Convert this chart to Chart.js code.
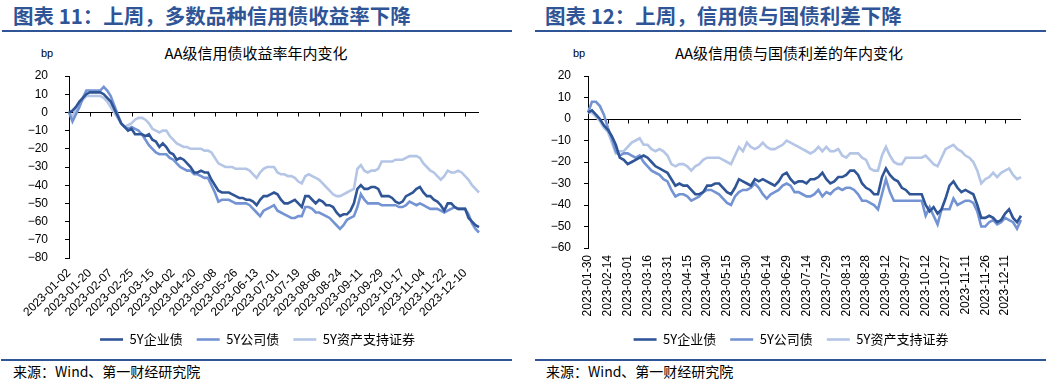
<!DOCTYPE html>
<html><head><meta charset="utf-8">
<script src="https://cdn.jsdelivr.net/npm/chart.js@4.4.0/dist/chart.umd.min.js"></script>
<style>
body{margin:0;width:1046px;height:383px;background:#fff;position:relative;overflow:hidden;font-family:"Noto Sans CJK SC","Noto Sans",sans-serif}
.h{position:absolute;top:0;font-size:20.5px;font-weight:bold;color:#2F5597;line-height:30px;white-space:nowrap}
.hl{position:absolute;top:30px;height:2px;background:#2F5597}
.sl{position:absolute;top:359px;height:2px;background:#2F5597}
.src{position:absolute;top:361px;font-size:14px;line-height:21px;color:#000;white-space:nowrap}
.ct{position:absolute;top:43px;font-size:15px;line-height:20px;color:#000;text-align:center;white-space:nowrap}
.bp{position:absolute;top:46px;font-size:11px;line-height:14px;color:#000;font-family:"Liberation Sans",sans-serif}
canvas{position:absolute;top:0}
</style></head>
<body>
<div class="h" style="left:13px">图表 11：上周，多数品种信用债收益率下降</div>
<div class="hl" style="left:2px;width:510px"></div>
<div class="h" style="left:545px">图表 12：上周，信用债与国债利差下降</div>
<div class="hl" style="left:535px;width:511px"></div>
<div class="ct" style="left:0;width:512px">AA级信用债收益率年内变化</div>
<div class="ct" style="left:534px;width:510px">AA级信用债与国债利差的年内变化</div>
<div class="bp" style="left:41px">bp</div>
<div class="bp" style="left:573px">bp</div>
<canvas id="c1" width="520" height="356" style="left:0"></canvas>
<canvas id="c2" width="520" height="356" style="left:526px"></canvas>
<div class="sl" style="left:1px;width:511px"></div>
<div class="sl" style="left:535px;width:511px"></div>
<div class="src" style="left:13px">来源：Wind、第一财经研究院</div>
<div class="src" style="left:546px">来源：Wind、第一财经研究院</div>
<script>
// ---- series names ----
const seriesNames = ['5Y企业债', '5Y公司债', '5Y资产支持证券'];
const seriesColors = ['#2F5597', '#7393D3', '#B4C5E6'];

// ---- left chart: AA yield change (bp), sampled every 3 days from 2023-01-02 ----
const leftStart = '2023-01-02';
const leftTickLabels = ['2023-01-02','2023-01-20','2023-02-07','2023-02-25','2023-03-15','2023-04-02','2023-04-20','2023-05-08','2023-05-26','2023-06-13','2023-07-01','2023-07-19','2023-08-06','2023-08-24','2023-09-11','2023-09-29','2023-10-17','2023-11-04','2023-11-22','2023-12-10'];
const leftYTicks = [20,10,0,-10,-20,-30,-40,-50,-60,-70,-80];
const leftEnterprise = [
0,1,3,6,8,10,
11,11,11,11,10,8,
6,2,-2,-6,-8,-10,
-9,-12,-12,-12,-13,-12,
-15,-16,-19,-17,-19,-22,
-23,-26,-25,-26,-28,-30,
-33,-33,-32,-33,-33,-37,
-40,-43,-44,-44,-44,-45,
-46,-47,-47,-48,-48,-49,
-51,-48,-46,-46,-45,-44,
-45,-48,-50,-50,-49,-48,
-50,-52,-46,-46,-48,-50,
-48,-49,-51,-51,-52,-55,
-57,-56,-56,-54,-50,-42,
-40,-42,-42,-41,-41,-42,
-46,-46,-46,-47,-49,-50,
-49,-46,-45,-44,-42,-41,
-44,-46,-46,-48,-49,-51,
-54,-50,-50,-52,-53,-53,
-53,-58,-60,-62,-63];
const leftCompany = [
0,-5,-1,3,8,12,
12,12,12,12,14,12,
9,4,-1,-6,-8,-9,
-8,-9,-10,-12,-15,-18,
-20,-22,-23,-23,-23,-25,
-26,-28,-30,-31,-32,-32,
-34,-34,-35,-36,-36,-40,
-44,-49,-48,-48,-48,-49,
-50,-50,-50,-50,-51,-53,
-55,-57,-54,-53,-52,-51,
-54,-55,-56,-57,-58,-58,
-57,-57,-52,-52,-53,-55,
-55,-56,-57,-58,-60,-62,
-64,-62,-59,-58,-57,-52,
-45,-48,-50,-50,-50,-50,
-51,-51,-51,-51,-51,-52,
-52,-51,-49,-50,-51,-50,
-51,-52,-53,-53,-53,-54,
-55,-54,-53,-52,-53,-53,
-53,-56,-61,-64,-66];
const leftABS = [
0,-2,1,4,7,9,
9,9,9,9,8,6,
3,0,-3,-6,-8,-7,
-6,-4,-3,-3,-4,-6,
-9,-10,-11,-10,-10,-13,
-15,-17,-18,-19,-19,-20,
-20,-20,-20,-21,-21,-22,
-25,-28,-29,-30,-30,-30,
-31,-31,-31,-31,-32,-34,
-36,-33,-31,-30,-30,-30,
-33,-34,-34,-35,-35,-36,
-38,-39,-35,-34,-35,-36,
-37,-39,-41,-43,-45,-46,
-46,-45,-44,-43,-42,-31,
-29,-32,-33,-32,-32,-31,
-27,-27,-27,-27,-26,-26,
-26,-25,-24,-24,-24,-25,
-28,-30,-32,-33,-35,-37,
-35,-32,-33,-33,-32,-33,
-35,-37,-40,-42,-44];

// ---- right chart: AA spread over treasury change (bp), sampled every 3 days from 2023-01-30 ----
const rightStart = '2023-01-30';
const rightTickLabels = ['2023-01-30','2023-02-14','2023-03-01','2023-03-16','2023-03-31','2023-04-15','2023-04-30','2023-05-15','2023-05-30','2023-06-14','2023-06-29','2023-07-14','2023-07-29','2023-08-13','2023-08-28','2023-09-12','2023-09-27','2023-10-12','2023-10-27','2023-11-11','2023-11-26','2023-12-11'];
const rightYTicks = [20,10,0,-10,-20,-30,-40,-50,-60];
const rightEnterprise = [
3,4,2,0,-3,
-5,-8,-12,-18,-19,
-21,-20,-19,-18,-17,
-18,-20,-22,-23,-24,
-25,-28,-31,-30,-31,
-31,-33,-35,-35,-34,
-31,-31,-30,-30,-32,
-34,-35,-32,-28,-29,
-30,-31,-28,-29,-28,
-29,-30,-31,-29,-26,
-25,-28,-30,-29,-29,
-30,-28,-28,-27,-25,
-28,-30,-29,-27,-27,
-26,-24,-24,-26,-30,
-32,-33,-35,-35,-27,
-23,-26,-28,-29,-32,
-33,-35,-35,-35,-35,
-40,-43,-41,-44,-42,
-37,-31,-29,-32,-34,
-33,-34,-35,-40,-46,
-46,-45,-46,-48,-47,
-44,-42,-46,-48,-45];
const rightCompany = [
3,8,8,6,2,
-4,-9,-15,-17,-16,
-16,-17,-18,-17,-20,
-22,-24,-25,-26,-28,
-29,-33,-36,-35,-35,
-36,-38,-37,-36,-34,
-33,-33,-34,-35,-37,
-39,-40,-36,-34,-33,
-33,-32,-30,-32,-35,
-37,-35,-34,-33,-31,
-30,-31,-34,-34,-35,
-36,-36,-35,-33,-36,
-34,-35,-33,-32,-33,
-32,-32,-33,-35,-38,
-38,-39,-40,-42,-35,
-28,-34,-38,-38,-38,
-38,-38,-38,-38,-38,
-45,-41,-45,-49,-42,
-42,-42,-37,-40,-39,
-38,-38,-39,-43,-50,
-50,-48,-47,-49,-48,
-46,-47,-48,-51,-47];
const rightABS = [
3,3,1,-1,-4,
-6,-11,-16,-15,-15,
-13,-11,-10,-9,-12,
-12,-14,-15,-14,-15,
-17,-21,-22,-21,-21,
-22,-24,-22,-21,-19,
-18,-18,-18,-18,-19,
-20,-21,-17,-13,-15,
-11,-13,-14,-13,-11,
-13,-14,-14,-13,-12,
-10,-11,-12,-13,-14,
-15,-16,-15,-13,-15,
-13,-15,-15,-14,-17,
-18,-16,-16,-16,-18,
-19,-23,-24,-24,-17,
-13,-17,-20,-21,-21,
-18,-18,-18,-18,-18,
-17,-19,-21,-22,-18,
-14,-13,-12,-14,-15,
-17,-18,-20,-24,-30,
-28,-27,-25,-27,-25,
-24,-23,-26,-28,-27];

function makeDates(start, n, step){
  const out = [];
  const d0 = new Date(start + 'T00:00:00Z');
  for (let i = 0; i < n; i++){
    const d = new Date(d0.getTime() + i*step*86400000);
    out.push(d.toISOString().slice(0,10));
  }
  return out;
}
const leftCategories = makeDates(leftStart, leftEnterprise.length, 3);
const rightCategories = makeDates(rightStart, rightEnterprise.length, 3);

const zeroAxis = {
  id: 'zeroAxis',
  beforeDatasetsDraw(chart, args, opts){
    const {ctx, chartArea: a, scales: {x, y}} = chart;
    const y0 = Math.round(y.getPixelForValue(0)) + 0.5;
    ctx.save();
    ctx.strokeStyle = '#000'; ctx.lineWidth = 1;
    ctx.beginPath();
    ctx.moveTo(a.left, y0); ctx.lineTo(a.right, y0);
    for (let i = opts.step; i < chart.data.labels.length; i += opts.step){
      const px = Math.round(x.getPixelForValue(i)) + 0.5;
      ctx.moveTo(px, y0); ctx.lineTo(px, y0 + 4);
    }
    ctx.stroke();
    ctx.restore();
  }
};

const minus = v => v < 0 ? '\u2212' + Math.abs(v) : String(v);

function makeChart(id, c){
  const data = [c.enterprise, c.company, c.abs];
  new Chart(document.getElementById(id), {
    type: 'line',
    data: {
      labels: c.labels,
      datasets: data.map((d, k) => ({
        label: seriesNames[k], data: d, borderColor: seriesColors[k], backgroundColor: seriesColors[k],
        borderWidth: 2.6, pointRadius: 0, tension: 0, fill: false
      }))
    },
    options: {
      responsive: false, animation: false, devicePixelRatio: 1,
      layout: {padding: {left: c.padLeft, right: c.padRight, top: c.padTop, bottom: 0}},
      plugins: {
        legend: {position: 'bottom', labels: {usePointStyle: true, pointStyle: 'line', pointStyleWidth: 23, boxHeight: 13,
          padding: 14, color: '#000', font: {family: '"Noto Sans CJK SC"', size: 13}}},
        tooltip: {enabled: false},
        zeroAxis: {step: c.step}
      },
      scales: {
        x: {
          grid: {display: false, drawTicks: false}, border: {display: false},
          ticks: {autoSkip: false, minRotation: c.rot, maxRotation: c.rot, padding: c.xPad, color: '#000',
            font: {family: '"Liberation Sans"', size: 12},
            callback: (v, i) => (i % c.step === 0 && c.tickLabels[i / c.step]) ? c.tickLabels[i / c.step] : ''},
          afterFit(s){ s.height = c.xHeight; }
        },
        y: {
          min: c.yTicks[c.yTicks.length - 1], max: c.yTicks[0],
          grid: {drawOnChartArea: false, tickLength: 4, color: '#000'},
          border: {display: true, color: '#000', width: 1},
          ticks: {stepSize: 10, padding: c.yPad, color: '#000', font: {family: '"Liberation Sans"', size: 12},
            callback: v => c.yTicks.includes(v) ? minus(v) : ''},
          afterFit(s){ s.width = c.yWidth; }
        },
        yr: {
          position: 'right', display: true, min: c.yTicks[c.yTicks.length - 1], max: c.yTicks[0],
          grid: {display: false, drawTicks: false}, border: {display: false}, ticks: {display: false},
          afterFit(s){ s.width = c.rightGap; }
        }
      }
    },
    plugins: [zeroAxis]
  });
}

makeChart('c1', {labels: leftCategories, enterprise: leftEnterprise, company: leftCompany, abs: leftABS,
  tickLabels: leftTickLabels, yTicks: leftYTicks, step: 6, rot: 45, xPad: 8, xHeight: 61,
  padLeft: 0, yWidth: 69, yPad: 17, padRight: 5, rightGap: 36, padTop: 76});
makeChart('c2', {labels: rightCategories, enterprise: rightEnterprise, company: rightCompany, abs: rightABS,
  tickLabels: rightTickLabels, yTicks: rightYTicks, step: 5, rot: 90, xPad: 7, xHeight: 71,
  padLeft: 10, yWidth: 52, yPad: 13, padRight: 0, rightGap: 25, padTop: 76});
</script>
</body></html>
